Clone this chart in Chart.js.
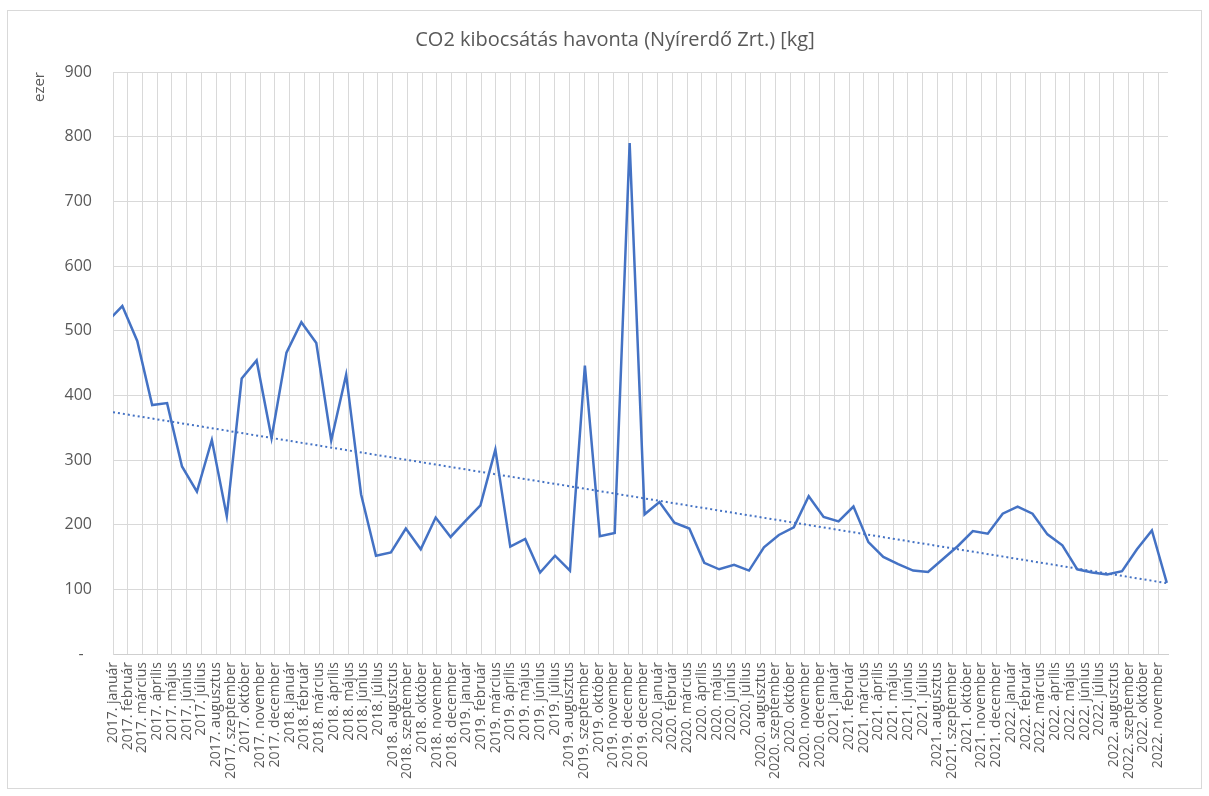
<!DOCTYPE html>
<html>
<head>
<meta charset="utf-8">
<script src="https://cdn.jsdelivr.net/npm/chart.js@4.4.1/dist/chart.umd.min.js"></script>
<style>
  body { margin: 0; background: #fff; }
  #wrap { position: absolute; left: 7px; top: 10px; width: 1193px; height: 777px; border: 1px solid #d9d9d9; }
  canvas { display: block; }
</style>
</head>
<body>
<div id="wrap"><canvas id="co2Canvas" width="1193" height="777"></canvas></div>
<script>
// havi címkék (a forrásban a 2019. december kétszer szerepel)
const honapok = [
  "2017. január", "2017. február", "2017. március", "2017. április", "2017. május", "2017. június",
  "2017. július", "2017. augusztus", "2017. szeptember", "2017. október", "2017. november", "2017. december",
  "2018. január", "2018. február", "2018. március", "2018. április", "2018. május", "2018. június",
  "2018. július", "2018. augusztus", "2018. szeptember", "2018. október", "2018. november", "2018. december",
  "2019. január", "2019. február", "2019. március", "2019. április", "2019. május", "2019. június",
  "2019. július", "2019. augusztus", "2019. szeptember", "2019. október", "2019. november", "2019. december",
  "2019. december", "2020. január", "2020. február", "2020. március", "2020. április", "2020. május",
  "2020. június", "2020. július", "2020. augusztus", "2020. szeptember", "2020. október", "2020. november",
  "2020. december", "2021. január", "2021. február", "2021. március", "2021. április", "2021. május",
  "2021. június", "2021. július", "2021. augusztus", "2021. szeptember", "2021. október", "2021. november",
  "2021. december", "2022. január", "2022. február", "2022. március", "2022. április", "2022. május",
  "2022. június", "2022. július", "2022. augusztus", "2022. szeptember", "2022. október", "2022. november"
];

// kibocsátás, ezer kg
const kibocsatas = [
  514, 538, 484, 385, 388, 290, 251, 331, 213, 426, 454, 334,
  466, 513, 481, 330, 432, 247, 152, 157, 194, 162, 211, 181,
  206, 230, 316, 166, 178, 126, 152, 129, 446, 182, 187, 790,
  216, 235, 203, 194, 141, 131, 138, 129, 165, 184, 196, 244,
  212, 205, 228, 173, 150, 139, 129, 127, 147, 167, 190, 186,
  217, 228, 217, 185, 168, 131, 126, 123, 128, 162, 191, 110
];

const yTicks = [0, 100, 200, 300, 400, 500, 600, 700, 800, 900];

const cim = "CO2 kibocsátás havonta (Nyírerdő Zrt.) [kg]";

const kek = "#4472C4";
const szurke = "#595959";
const racs = "#d9d9d9";

// az adatsor és a címketengely kicsit eltérő léptékű, mint az eredetin
const dataMin = 0.375;
const dataMax = 71.08;
const labelMax = 71.67;

// lineáris trend (legkisebb négyzetek)
let n = kibocsatas.length;
let mx = (n - 1) / 2;
let my = kibocsatas.reduce((a, b) => a + b, 0) / n;
let sxy = 0, sxx = 0;
kibocsatas.forEach((v, i) => { sxy += (i - mx) * (v - my); sxx += (i - mx) * (i - mx); });
let slope = sxy / sxx;
let icpt = my - slope * mx;
const trend = [
  { x: dataMin, y: icpt + slope * dataMin },
  { x: dataMax, y: icpt + slope * dataMax }
];

// cím kézzel, hogy a vízszintes helye pontos legyen
const cimPlugin = {
  id: "cimPlugin",
  afterDraw(c) {
    const ctx = c.ctx;
    ctx.save();
    ctx.fillStyle = szurke;
    ctx.font = "20px 'Open Sans'";
    ctx.textAlign = "center";
    ctx.textBaseline = "middle";
    ctx.fillText(cim, 607, 29);
    ctx.restore();
  }
};

const chart = new Chart(document.getElementById("co2Canvas"), {
  type: "line",
  data: {
    datasets: [
      {
        label: "CO2",
        data: kibocsatas.map((v, i) => ({ x: i, y: v })),
        xAxisID: "xd",
        borderColor: kek,
        borderWidth: 2.5,
        pointRadius: 0,
        tension: 0,
        clip: 0
      },
      {
        label: "Lineáris trend",
        data: trend,
        xAxisID: "xd",
        borderColor: kek,
        borderWidth: 2,
        borderDash: [2, 3],
        pointRadius: 0,
        clip: 0
      }
    ]
  },
  options: {
    responsive: false,
    animation: false,
    devicePixelRatio: 1,
    layout: { padding: { left: 0, right: 33, top: 61, bottom: 0 } },
    plugins: {
      legend: { display: false },
      tooltip: { enabled: false },
      title: { display: false }
    },
    scales: {
      x: {
        type: "linear",
        position: "bottom",
        min: 0,
        max: labelMax,
        afterBuildTicks: s => { s.ticks = honapok.map((h, i) => ({ value: i })); },
        afterFit: s => { s.height = 134; },
        ticks: {
          autoSkip: false,
          minRotation: 90,
          maxRotation: 90,
          padding: 8,
          color: szurke,
          font: { family: "Open Sans", size: 14 },
          callback: v => honapok[v]
        },
        grid: { color: racs, drawTicks: false },
        border: { color: "#cfcfcf" }
      },
      xd: {
        type: "linear",
        display: false,
        min: dataMin,
        max: dataMax
      },
      y: {
        min: 0,
        max: 900,
        afterBuildTicks: s => { s.ticks = yTicks.map(v => ({ value: v })); },
        afterFit: s => { s.width = 105; },
        ticks: {
          padding: 21,
          color: szurke,
          font: { family: "Open Sans", size: 16 },
          callback: v => v === 0 ? "-  " : v
        },
        grid: { color: racs, drawTicks: false },
        border: { color: racs },
        title: {
          display: true,
          text: "ezer",
          align: "end",
          color: szurke,
          font: { family: "Open Sans", size: 15 },
          padding: { top: 23, bottom: 0 }
        }
      }
    }
  },
  plugins: [cimPlugin]
});
</script>
</body>
</html>
